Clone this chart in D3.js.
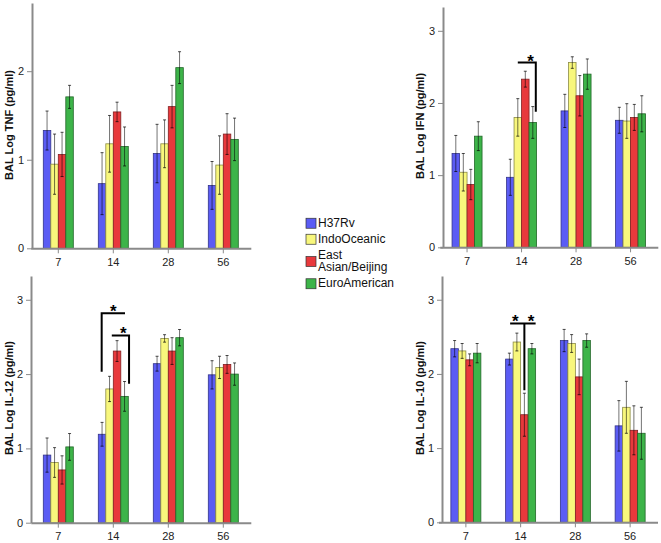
<!DOCTYPE html>
<html>
<head>
<meta charset="utf-8">
<script src="https://cdn.jsdelivr.net/npm/d3@7"></script>
<style>
  html, body { margin: 0; padding: 0; background: #fff; }
  svg { display: block; font-family: "Liberation Sans", Arial, sans-serif; }
</style>
</head>
<body>
<svg id="chart" width="661" height="543"></svg>
<script>
// ---------------- data ----------------
const days = ["7", "14", "28", "56"];
const strains = ["H37Rv", "IndoOceanic", "East Asian/Beijing", "EuroAmerican"];
const legendLines = [["H37Rv"], ["IndoOceanic"], ["East", "Asian/Beijing"], ["EuroAmerican"]];
const colors = ["#5b5cf4", "#f8f77c", "#e8393c", "#3db449"];

// means per strain across days 7,14,28,56
const tnfMean = [[1.33, 0.73, 1.07, 0.71], [0.95, 1.18, 1.18, 0.94], [1.06, 1.54, 1.60, 1.29], [1.71, 1.15, 2.04, 1.23]];
const tnfErr  = [[0.22, 0.35, 0.33, 0.27], [0.34, 0.32, 0.27, 0.33], [0.25, 0.11, 0.24, 0.23], [0.13, 0.22, 0.18, 0.24]];
const ifnMean = [[1.30, 0.97, 1.89, 1.76], [1.04, 1.80, 2.56, 1.75], [0.87, 2.33, 2.10, 1.80], [1.54, 1.73, 2.40, 1.85]];
const ifnErr  = [[0.25, 0.25, 0.23, 0.18], [0.26, 0.26, 0.08, 0.24], [0.21, 0.11, 0.28, 0.18], [0.20, 0.22, 0.21, 0.25]];
const il12Mean = [[0.91, 1.19, 2.14, 1.99], [0.81, 1.80, 2.48, 2.09], [0.71, 2.31, 2.31, 2.13], [1.02, 1.70, 2.49, 2.00]];
const il12Err  = [[0.23, 0.16, 0.10, 0.19], [0.20, 0.17, 0.05, 0.15], [0.19, 0.14, 0.18, 0.12], [0.18, 0.20, 0.11, 0.15]];
const il10Mean = [[2.34, 2.20, 2.45, 1.30], [2.31, 2.43, 2.41, 1.55], [2.19, 1.45, 1.96, 1.24], [2.28, 2.34, 2.45, 1.20]];
const il10Err  = [[0.11, 0.08, 0.15, 0.34], [0.10, 0.12, 0.12, 0.35], [0.08, 0.29, 0.24, 0.33], [0.13, 0.07, 0.09, 0.35]];

const yLabels = ["BAL Log TNF (pg/ml)", "BAL Log IFN (pg/ml)", "BAL Log IL-12 (pg/ml)", "BAL Log IL-10 (pg/ml)"];
const yTicks = [[0, 1, 2], [0, 1, 2, 3], [0, 1, 2, 3], [0, 1, 2, 3]];
const yMax = [2.77, 3.33, 3.32, 3.32];

// significance brackets: day, path in (bar-slot, value) units, asterisks
const brackets = [
  [],
  [{ day: "14", path: [[1.5, 2.56], [3.9, 2.56], [3.9, 1.88]], stars: [[3.2, 2.56]] }],
  [{ day: "14", path: [[0.45, 2.03], [0.45, 2.82], [3.56, 2.82]], stars: [[2.0, 2.82]] },
   { day: "14", path: [[1.8, 2.52], [4.1, 2.52], [4.1, 1.87]], stars: [[3.33, 2.52]] }],
  [{ day: "14", path: [[0.6, 2.68], [4.0, 2.68]], stars: [[1.3, 2.68], [3.4, 2.68]] },
   { day: "14", path: [[2.5, 2.68], [2.5, 1.78]], stars: [] }]
];

// ---------------- layout ----------------
const panels = [
  { mean: tnfMean, err: tnfErr, xr: [30.8, 250.8], yAxisX: 32, base: 248.3, top: 3, labX: 13, labY: 125 },
  { mean: ifnMean, err: ifnErr, xr: [439.8, 657.8], yAxisX: 443, base: 247.3, top: 7, labX: 424, labY: 126 },
  { mean: il12Mean, err: il12Err, xr: [30.8, 250.8], yAxisX: 31, base: 522.7, top: 276, labX: 13, labY: 398 },
  { mean: il10Mean, err: il10Err, xr: [438.5, 657.5], yAxisX: 442, base: 522.3, top: 276, labX: 424, labY: 398 }
];
const barW = 7.5;
const axisColor = "#8a8a8a";
const errColor = "rgba(0,0,0,0.55)";

const svg = d3.select("#chart");

panels.forEach((p, pi) => {
  const g = svg.append("g");
  const x = d3.scaleBand().domain(days).range(p.xr);
  const y = d3.scaleLinear().domain([0, yMax[pi]]).range([p.base, p.top]);
  const slot = (day, s) => x(day) + x.bandwidth() / 2 - 2 * barW + s * barW;

  // bars
  strains.forEach((st, si) => {
    days.forEach((d, di) => {
      const v = p.mean[si][di];
      g.append("rect")
        .attr("x", slot(d, si))
        .attr("y", y(v))
        .attr("width", barW)
        .attr("height", y(0) - y(v))
        .attr("fill", colors[si])
        .attr("stroke", d3.color(colors[si]).darker(1.6))
        .attr("stroke-width", 0.8);
    });
  });
  // error bars
  strains.forEach((st, si) => {
    days.forEach((d, di) => {
      const v = p.mean[si][di], e = p.err[si][di];
      const cx = slot(d, si + 0.5);
      g.append("line")
        .attr("x1", cx).attr("x2", cx)
        .attr("y1", y(v - e)).attr("y2", y(v + e))
        .attr("stroke", errColor).attr("stroke-width", 1);
      [v - e, v + e].forEach(t => {
        g.append("line")
          .attr("x1", cx - 1.5).attr("x2", cx + 1.5)
          .attr("y1", y(t)).attr("y2", y(t))
          .attr("stroke", "rgba(0,0,0,0.7)").attr("stroke-width", 1);
      });
    });
  });

  // y axis
  const ya = g.append("g")
    .attr("transform", `translate(${p.yAxisX},0)`)
    .call(d3.axisLeft(y).tickValues(yTicks[pi]).tickFormat(d3.format("d")).tickSize(5).tickSizeOuter(0).tickPadding(3));
  ya.select(".domain").attr("stroke", axisColor).attr("stroke-width", 2);
  ya.selectAll(".tick line").attr("stroke", axisColor).attr("stroke-width", 1);
  ya.selectAll("text").attr("font-size", 11).attr("fill", "#222").attr("font-family", "Liberation Sans, Arial, sans-serif");

  // x axis
  const xa = g.append("g")
    .attr("transform", `translate(0,${p.base})`)
    .call(d3.axisBottom(x).tickSize(5).tickSizeOuter(0).tickPadding(5));
  xa.select(".domain").attr("stroke", axisColor).attr("stroke-width", 2);
  xa.selectAll(".tick line").attr("stroke", axisColor).attr("stroke-width", 1);
  xa.selectAll("text").attr("font-size", 11).attr("fill", "#222").attr("font-family", "Liberation Sans, Arial, sans-serif");

  // y label
  g.append("text")
    .attr("transform", `translate(${p.labX},${p.labY}) rotate(-90)`)
    .attr("text-anchor", "middle")
    .attr("font-size", 11).attr("font-weight", "bold").attr("fill", "#111")
    .text(yLabels[pi]);

  // brackets
  brackets[pi].forEach(b => {
    const line = d3.line().x(q => slot(b.day, q[0])).y(q => y(q[1]));
    g.append("path").attr("d", line(b.path))
      .attr("fill", "none").attr("stroke", "#000").attr("stroke-width", 2);
    b.stars.forEach(s => {
      g.append("text")
        .attr("x", slot(b.day, s[0]))
        .attr("y", y(s[1]) + 4)
        .attr("text-anchor", "middle")
        .attr("font-size", 17).attr("font-weight", "bold").attr("fill", "#000")
        .text("*");
    });
  });
});

// legend
const lg = svg.append("g");
let ly = 217;
legendLines.forEach((lines, i) => {
  const h = lines.length * 12.5;
  const sy = ly + h / 2 - 5;
  lg.append("rect").attr("x", 306).attr("y", sy).attr("width", 10).attr("height", 10)
    .attr("fill", colors[i]).attr("stroke", "#333").attr("stroke-width", 0.7);
  lines.forEach((t, k) => {
    lg.append("text").attr("x", 318).attr("y", ly + 9.5 + k * 12.5)
      .attr("font-size", 12).attr("fill", "#111").text(t);
  });
  ly += h + 3.5;
});
</script>
</body>
</html>
